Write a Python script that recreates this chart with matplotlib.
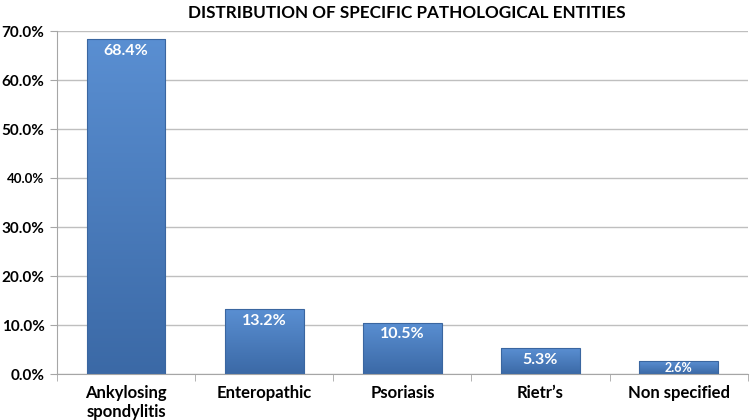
import matplotlib
matplotlib.use("Agg")
import matplotlib.pyplot as plt
import numpy as np
from matplotlib.colors import LinearSegmentedColormap

categories = ["Ankylosing\nspondylitis", "Enteropathic", "Psoriasis", "Rietr\u2019s", "Non specified"]
values = [68.4, 13.2, 10.5, 5.3, 2.6]
value_labels = ["68.4%", "13.2%", "10.5%", "5.3%", "2.6%"]
yticks = [0, 10, 20, 30, 40, 50, 60, 70]
ytick_labels = ["0.0%", "10.0%", "20.0%", "30.0%", "40.0%", "50.0%", "60.0%", "70.0%"]

plt.rcParams['font.family'] = ['Lato', 'DejaVu Sans']

fig = plt.figure(figsize=(7.5, 4.2), dpi=100)
ax = fig.add_axes([0.076, 0.1095, 0.921, 0.8165])

x = np.arange(len(categories))
bars = ax.bar(x, values, width=0.57, color='none', edgecolor='#3a66a0', linewidth=0.8, zorder=3)

cmap = LinearSegmentedColormap.from_list("g", ["#3b69a6", "#5a8fd2"])
grad = np.linspace(0, 1, 256).reshape(-1, 1)
for b in bars:
    x0, y0 = b.get_x(), b.get_y()
    w, h = b.get_width(), b.get_height()
    im = ax.imshow(grad, cmap=cmap, origin='lower', aspect='auto',
                   extent=[x0, x0 + w, y0, y0 + h], zorder=2)
    im.set_clip_path(b)

for i, (v, lab) in enumerate(zip(values, value_labels)):
    fs = 11.5 if v > 3 else 9
    off = 2.4 if v > 3 else 1.3
    ax.text(x[i], v - off, lab, ha='center', va='center', color='white',
            fontsize=fs, fontweight='bold', zorder=4)

ax.set_xlim(-0.5, len(categories) - 0.5)
ax.set_ylim(0, 70)
ax.set_yticks(yticks)
ax.set_yticklabels(ytick_labels)
for t, lab in zip(ax.get_yticklabels(), ytick_labels):
    t.set_fontweight('bold')
    t.set_fontsize(9.5 if lab == "40.0%" else 11)
ax.yaxis.grid(True, color='#bfbfbf', linewidth=1.0, zorder=0)
ax.set_axisbelow(True)

ax.set_xticks(x)
ax.set_xticklabels(categories, fontsize=12, fontweight='bold')
ax.tick_params(axis='x', length=0, pad=8)
ax.set_xticks(np.arange(-0.5, len(categories), 1.0), minor=True)
ax.tick_params(axis='x', which='minor', length=5, color='#a6a6a6')
ax.tick_params(axis='y', length=5, color='#a6a6a6', pad=4)

for s in ['top', 'right']:
    ax.spines[s].set_visible(False)
ax.spines['left'].set_color('#a6a6a6')
ax.spines['bottom'].set_color('#a6a6a6')

fig.text(0.543, 0.968, "DISTRIBUTION OF SPECIFIC PATHOLOGICAL ENTITIES", ha='center', va='center',
         fontsize=12.3, fontweight='bold')

fig.savefig("out.png", dpi=100)
